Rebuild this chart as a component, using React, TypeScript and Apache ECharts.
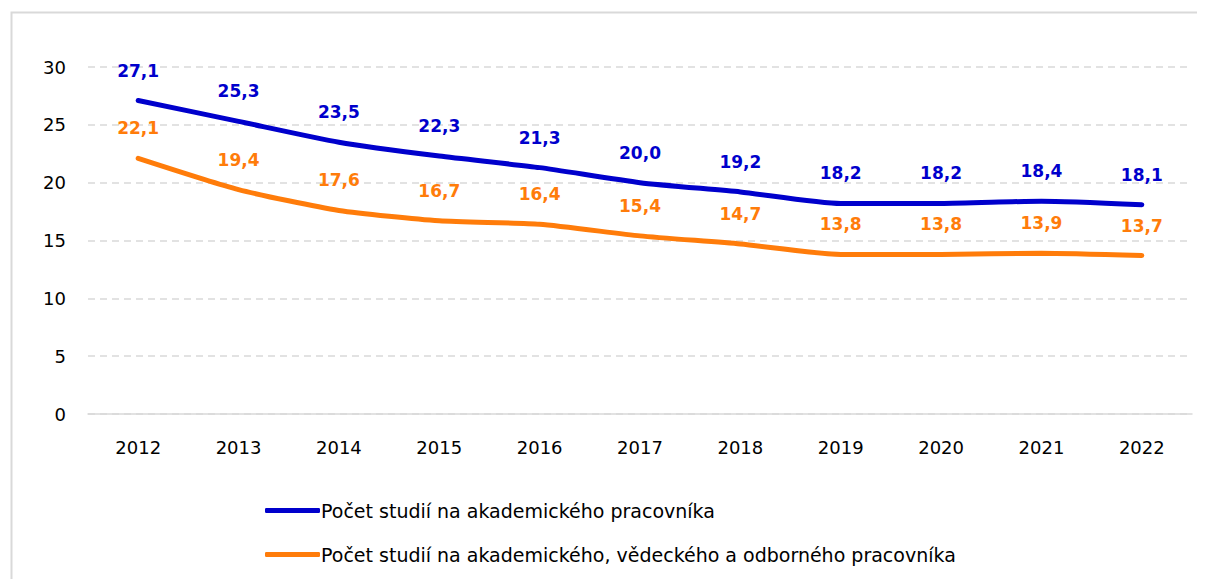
import React, { useEffect, useRef } from "react";
import * as echarts from "echarts";

const years = ["2012", "2013", "2014", "2015", "2016", "2017", "2018", "2019", "2020", "2021", "2022"];
const academic = [27.1, 25.3, 23.5, 22.3, 21.3, 20.0, 19.2, 18.2, 18.2, 18.4, 18.1];
const academicResearch = [22.1, 19.4, 17.6, 16.7, 16.4, 15.4, 14.7, 13.8, 13.8, 13.9, 13.7];
const seriesNames = [
  "Počet studií na akademického pracovníka",
  "Počet studií na akademického, vědeckého a odborného pracovníka",
];
const colors = ["#0000cc", "#ff7c0a"];

const FONT = "'DejaVu Sans', sans-serif";

export default function App() {
  const ref = useRef<HTMLDivElement>(null);
  useEffect(() => {
    if (!ref.current) return;
    const chart = echarts.init(ref.current, undefined, { renderer: "svg" });
    const fmt = (p: any) => Number(p.value).toFixed(1).replace(".", ",");
    chart.setOption({
      animation: false,
      textStyle: { fontFamily: FONT },
      graphic: [
        {
          type: "rect",
          left: 1,
          top: 2,
          shape: { width: 1250, height: 650 },
          style: { fill: "none", stroke: "#d9d9d9", lineWidth: 2 },
          silent: true,
        },
      ],
      grid: { left: 80, right: 13, top: 59, bottom: 165 },
      xAxis: {
        type: "category",
        data: years,
        boundaryGap: true,
        axisLine: { show: true, lineStyle: { color: "#d9d9d9", width: 1.5 } },
        axisTick: { show: false },
        axisLabel: { color: "#000", fontSize: 18, margin: 24, fontFamily: FONT },
      },
      yAxis: {
        type: "value",
        min: 0,
        max: 30,
        interval: 5,
        axisLine: { show: false },
        axisTick: { show: false },
        axisLabel: { color: "#000", fontSize: 18, margin: 22, fontFamily: FONT },
        splitLine: { lineStyle: { color: "#d9d9d9", type: [7, 5], width: 1.5 } },
      },
      legend: {
        orient: "vertical",
        left: 252,
        top: 488,
        itemWidth: 55,
        itemHeight: 5,
        itemGap: 25,
        icon: "roundRect",
        itemStyle: { opacity: 1 },
        textStyle: { color: "#000", fontSize: 19, fontFamily: FONT, padding: [0, 0, 0, -4] },
        data: seriesNames.map((n, i) => ({ name: n, itemStyle: { color: colors[i], opacity: 1 } })),
      },
      series: [academic, academicResearch].map((d, i) => ({
        name: seriesNames[i],
        type: "line",
        data: d,
        smooth: 0.2,
        symbol: "circle",
        symbolSize: 1,
        showSymbol: true,
        lineStyle: { color: colors[i], width: 5, cap: "round" },
        itemStyle: { color: colors[i], opacity: 0 },
        label: {
          show: true,
          position: "top",
          distance: 21,
          color: colors[i],
          fontSize: 17,
          fontWeight: "bold",
          fontFamily: FONT,
          opacity: 1,
          formatter: fmt,
        },
      })),
    });
    return () => chart.dispose();
  }, []);
  return <div ref={ref} style={{ width: 1197, height: 571 }} />;
}
